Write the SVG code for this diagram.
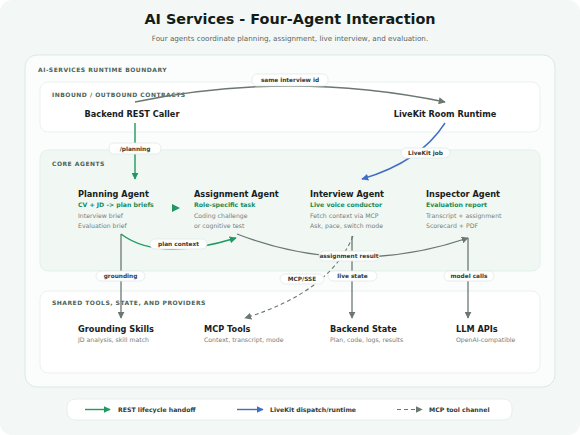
<svg xmlns="http://www.w3.org/2000/svg" width="580" height="435" viewBox="0 0 580 435">
<style>
text{font-family:"DejaVu Sans","Liberation Sans",sans-serif}
.title{font-size:14.4px;font-weight:bold;fill:#141c18}
.sub{font-size:7.2px;fill:#5c6660}
.sec{font-size:6px;font-weight:bold;fill:#4a6358;letter-spacing:0.5px}
.nt{font-size:8.2px;font-weight:bold;fill:#18211d}
.ng{font-size:6.2px;font-weight:bold;fill:#1b8a57}
.nb{font-size:6.2px;fill:#767d79}
.lbl{font-size:5.8px;font-weight:bold;fill:#333b37;text-anchor:middle}
.lb{fill:#ffffff;stroke:#dfe8e3;stroke-width:0.8}
.g{fill:none;stroke:#1e9a60;stroke-width:1.4}
.b{fill:none;stroke:#3f6fc4;stroke-width:1.4}
.k{fill:none;stroke:#6b7871;stroke-width:1.3}
.d{fill:none;stroke:#6b7871;stroke-width:1.1;stroke-dasharray:4 3}
.leg{font-size:6.2px;font-weight:bold;fill:#333b37}
</style>
<defs>
<marker id="ag" viewBox="0 0 10 10" refX="9" refY="5" markerWidth="7" markerHeight="7" markerUnits="userSpaceOnUse" orient="auto"><path d="M0,0L10,5L0,10z" fill="#1e9a60"/></marker>
<marker id="ab" viewBox="0 0 10 10" refX="9" refY="5" markerWidth="7" markerHeight="7" markerUnits="userSpaceOnUse" orient="auto"><path d="M0,0L10,5L0,10z" fill="#3f6fc4"/></marker>
<marker id="ak" viewBox="0 0 10 10" refX="9" refY="5" markerWidth="7" markerHeight="7" markerUnits="userSpaceOnUse" orient="auto"><path d="M0,0L10,5L0,10z" fill="#6b7871"/></marker>
</defs>
<rect x="0" y="0" width="580" height="435" fill="#ffffff"/>
<rect x="0" y="0" width="580" height="435" rx="12" fill="#f3f8f6"/>
<text class="title" x="290" y="23.5" text-anchor="middle">AI Services - Four-Agent Interaction</text>
<text class="sub" x="290" y="40.5" text-anchor="middle">Four agents coordinate planning, assignment, live interview, and evaluation.</text>

<g id="runtime-boundary">
<rect x="25" y="55" width="530" height="332" rx="12" fill="#fbfdfc" stroke="#d8ebe0" stroke-width="1"/>
<text class="sec" x="38" y="72">AI-SERVICES RUNTIME BOUNDARY</text>
</g>
<g id="inbound-outbound">
<rect x="40" y="82" width="500" height="50" rx="8" fill="#ffffff" stroke="#e4eee8" stroke-width="0.8"/>
<text class="sec" x="52" y="96.5">INBOUND / OUTBOUND CONTRACTS</text>
</g>
<g id="core-agents">
<rect x="40" y="150" width="500" height="121" rx="8" fill="#f1f8f4" stroke="#dcefe3" stroke-width="0.8"/>
<text class="sec" x="52" y="166">CORE AGENTS</text>
</g>
<g id="shared-tools">
<rect x="40" y="291" width="500" height="82" rx="8" fill="#ffffff" stroke="#e4eee8" stroke-width="0.8"/>
<text class="sec" x="52" y="305">SHARED TOOLS, STATE, AND PROVIDERS</text>
</g>

<g id="backend-rest-caller"><text class="nt" x="132" y="116.5" text-anchor="middle">Backend REST Caller</text></g>
<g id="livekit-room-runtime"><text class="nt" x="445" y="116.5" text-anchor="middle">LiveKit Room Runtime</text></g>

<g id="planning-agent">
<text class="nt" x="78" y="196.5">Planning Agent</text>
<text class="ng" x="78" y="206.5">CV + JD -&gt; plan briefs</text>
<text class="nb" x="78" y="217.5">Interview brief</text>
<text class="nb" x="78" y="227.5">Evaluation brief</text>
</g>
<g id="assignment-agent">
<text class="nt" x="194" y="196.5">Assignment Agent</text>
<text class="ng" x="194" y="206.5">Role-specific task</text>
<text class="nb" x="194" y="217.5">Coding challenge</text>
<text class="nb" x="194" y="227.5">or cognitive test</text>
</g>
<g id="interview-agent">
<text class="nt" x="310" y="196.5">Interview Agent</text>
<text class="ng" x="310" y="206.5">Live voice conductor</text>
<text class="nb" x="310" y="217.5">Fetch context via MCP</text>
<text class="nb" x="310" y="227.5">Ask, pace, switch mode</text>
</g>
<g id="inspector-agent">
<text class="nt" x="426" y="196.5">Inspector Agent</text>
<text class="ng" x="426" y="206.5">Evaluation report</text>
<text class="nb" x="426" y="217.5">Transcript + assignment</text>
<text class="nb" x="426" y="227.5">Scorecard + PDF</text>
</g>

<g id="grounding-skills">
<text class="nt" x="78" y="331.5">Grounding Skills</text>
<text class="nb" x="78" y="342">JD analysis, skill match</text>
</g>
<g id="mcp-tools">
<text class="nt" x="204" y="331.5">MCP Tools</text>
<text class="nb" x="204" y="342">Context, transcript, mode</text>
</g>
<g id="backend-state">
<text class="nt" x="330" y="331.5">Backend State</text>
<text class="nb" x="330" y="342">Plan, code, logs, results</text>
</g>
<g id="llm-apis">
<text class="nt" x="456" y="331.5">LLM APIs</text>
<text class="nb" x="456" y="342">OpenAI-compatible</text>
</g>

<g id="connectors">
<path class="k" d="M135,102 Q290,70 445,102" marker-end="url(#ak)"/>
<path class="g" d="M135,123 L135,179" marker-end="url(#ag)"/>
<path class="b" d="M445,123 Q420,162 362,179" marker-end="url(#ab)"/>
<polygon points="172,204 180,208 172,212" fill="#1e9a60"/>
<path class="g" d="M121,234 Q158,262 236,238" marker-end="url(#ag)"/>
<path class="k" d="M121,234 L121,318" marker-end="url(#ak)"/>
<path class="k" d="M237,234 Q350,278 468,238" marker-end="url(#ak)"/>
<path class="d" d="M353,236 Q330,292 245,318" marker-end="url(#ak)"/>
<path class="k" d="M352,236 L352,318" marker-end="url(#ak)"/>
<path class="k" d="M468,238 L468,318" marker-end="url(#ak)"/>

<rect class="lb" x="252" y="74" width="76" height="12" rx="5"/>
<text class="lbl" x="290" y="82">same interview id</text>
<rect class="lb" x="109" y="143" width="52" height="11" rx="5"/>
<text class="lbl" x="135" y="150.5">/planning</text>
<rect class="lb" x="401" y="148" width="49" height="10" rx="5"/>
<text class="lbl" x="425.5" y="155">LiveKit job</text>
<rect class="lb" x="150" y="239" width="57" height="10" rx="5"/>
<text class="lbl" x="178.5" y="246">plan context</text>
<rect class="lb" x="319" y="251" width="60" height="10" rx="5"/>
<text class="lbl" x="349" y="258">assignment result</text>
<rect class="lb" x="96" y="271" width="49" height="10" rx="5"/>
<text class="lbl" x="120.5" y="278">grounding</text>
<rect class="lb" x="280" y="274" width="44" height="10" rx="5"/>
<text class="lbl" x="302" y="281">MCP/SSE</text>
<rect class="lb" x="328" y="271" width="49" height="10" rx="5"/>
<text class="lbl" x="352.5" y="278">live state</text>
<rect class="lb" x="444" y="271" width="50" height="10" rx="5"/>
<text class="lbl" x="469" y="278">model calls</text>
</g>

<g id="legend">
<rect x="67" y="399" width="445" height="21" rx="8" fill="#ffffff" stroke="#e0ece6" stroke-width="0.8"/>
<path class="g" d="M85,409.5 L110,409.5" marker-end="url(#ag)"/>
<text class="leg" x="118" y="411.5">REST lifecycle handoff</text>
<path class="b" d="M237,409.5 L263,409.5" marker-end="url(#ab)"/>
<text class="leg" x="270" y="411.5">LiveKit dispatch/runtime</text>
<path class="d" d="M397,409.5 L422,409.5" marker-end="url(#ak)"/>
<text class="leg" x="429" y="411.5">MCP tool channel</text>
</g>
</svg>
